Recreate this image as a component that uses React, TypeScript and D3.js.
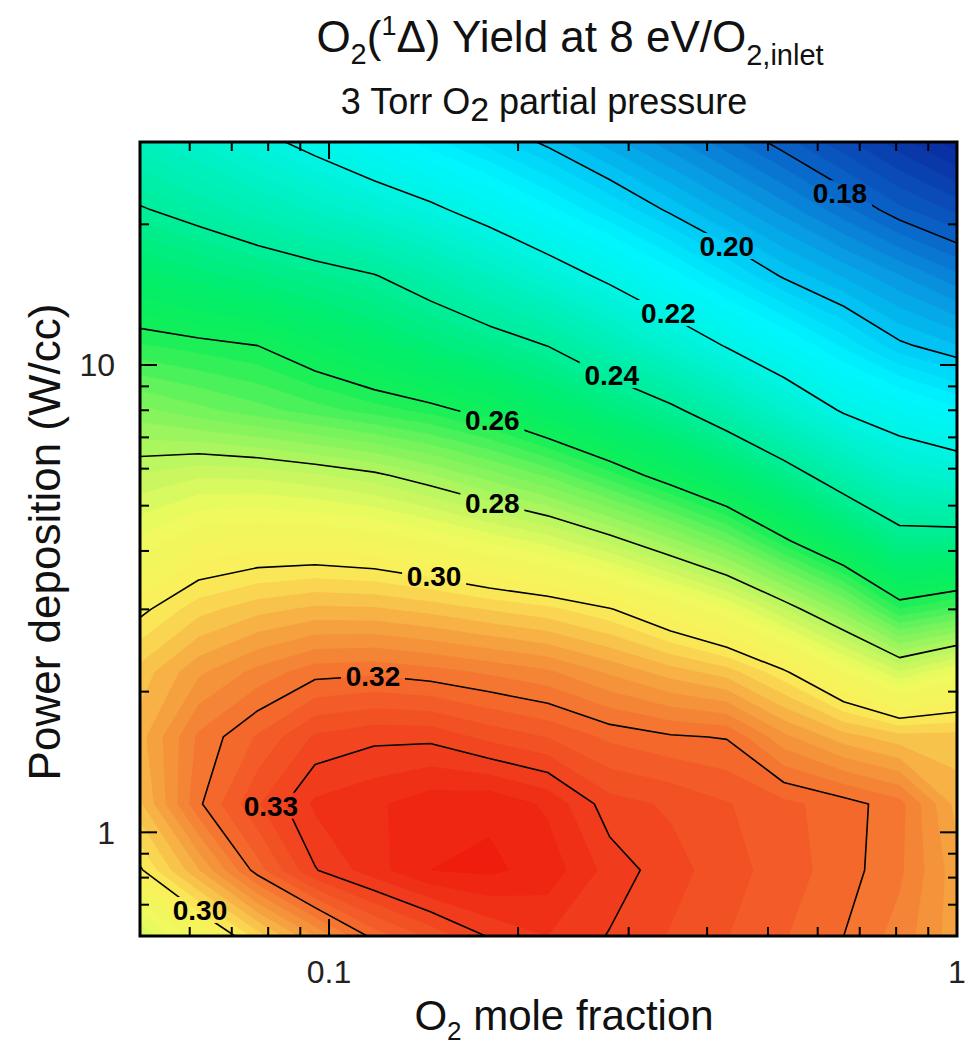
import React from 'react';
import * as d3 from 'd3';

// grid of the simulation: O2 mole fraction (columns) x power deposition (rows)
const moleFraction = [0.05, 0.062, 0.077, 0.095, 0.118, 0.145, 0.18, 0.223, 0.28, 0.35, 0.43, 0.53, 0.66, 0.81, 1.0];
const powerDeposition = [0.6, 0.83, 1.15, 1.6, 2.2, 3.0, 4.2, 5.8, 8.0, 11, 15.5, 21.5, 30];

// O2(1Delta) yield, one row per power deposition value (bottom to top)
const yieldRows = [
  [0.285, 0.2943, 0.3036, 0.3126, 0.321, 0.3256, 0.3303, 0.3325, 0.3298, 0.3273, 0.3251, 0.3227, 0.32, 0.3165, 0.311],
  [0.2995, 0.3098, 0.3214, 0.3298, 0.334, 0.3375, 0.338, 0.3365, 0.3315, 0.3285, 0.3261, 0.3237, 0.3212, 0.318, 0.311],
  [0.307, 0.3195, 0.3272, 0.333, 0.3345, 0.3365, 0.337, 0.3345, 0.3285, 0.3271, 0.3252, 0.3232, 0.3212, 0.3185, 0.309],
  [0.309, 0.318, 0.3228, 0.3279, 0.3293, 0.3293, 0.3267, 0.3249, 0.3219, 0.3204, 0.3198, 0.3132, 0.3086, 0.306, 0.306],
  [0.306, 0.312, 0.3159, 0.319, 0.3195, 0.3185, 0.3171, 0.3155, 0.3121, 0.3088, 0.3063, 0.3007, 0.2928, 0.2853, 0.2904],
  [0.2991, 0.304, 0.3066, 0.3081, 0.3079, 0.3066, 0.3048, 0.3032, 0.3003, 0.2954, 0.2904, 0.2826, 0.2736, 0.2626, 0.2661],
  [0.2907, 0.2947, 0.2958, 0.2957, 0.2946, 0.2924, 0.2894, 0.2865, 0.2817, 0.2758, 0.2696, 0.261, 0.2524, 0.2438, 0.2439],
  [0.2828, 0.2846, 0.2843, 0.2829, 0.2809, 0.2777, 0.2737, 0.2696, 0.2636, 0.2573, 0.2514, 0.244, 0.2351, 0.2278, 0.2256],
  [0.2732, 0.2708, 0.2685, 0.2662, 0.2638, 0.2615, 0.2581, 0.2528, 0.2472, 0.2416, 0.2347, 0.2268, 0.2192, 0.2149, 0.2106],
  [0.2628, 0.2614, 0.26, 0.256, 0.2519, 0.2481, 0.244, 0.2399, 0.2328, 0.2259, 0.2195, 0.2134, 0.2069, 0.2008, 0.1976],
  [0.2515, 0.2487, 0.2459, 0.2432, 0.2404, 0.2355, 0.2299, 0.2244, 0.2182, 0.2116, 0.2055, 0.1995, 0.1947, 0.1902, 0.1856],
  [0.2406, 0.2371, 0.2331, 0.2293, 0.2253, 0.2215, 0.2165, 0.2109, 0.205, 0.1992, 0.194, 0.1888, 0.1833, 0.1781, 0.1743],
  [0.231, 0.2268, 0.2222, 0.2176, 0.2129, 0.2085, 0.2038, 0.1991, 0.1937, 0.1884, 0.1835, 0.1785, 0.1733, 0.1685, 0.1635],
];

const lineLevels = [0.18, 0.2, 0.22, 0.24, 0.26, 0.28, 0.3, 0.32, 0.33];
const labelText = ['0.18', '0.20', '0.22', '0.24', '0.26', '0.28', '0.30', '0.32', '0.33', '0.30'];
const labelX = [0.651, 0.43, 0.347, 0.282, 0.182, 0.182, 0.147, 0.1175, 0.0808, 0.0623];
const labelY = [23.3, 17.97, 12.92, 9.52, 7.63, 5.07, 3.54, 2.16, 1.14, 0.682];

const xTickLabels = [0.1, 1];
const yTickLabels = [1, 10];

const colorDomain = [0.16, 0.17, 0.18, 0.19, 0.2, 0.21, 0.22, 0.23, 0.24, 0.25, 0.26, 0.27, 0.28, 0.29, 0.3, 0.305, 0.31, 0.315, 0.32, 0.325, 0.33, 0.335, 0.34];
const colorRange = ['#0a1e96', '#0a3cac', '#0a64c8', '#0896e0', '#00c8f5', '#00f5ff', '#00f5e6', '#00f0c0', '#00ee9a', '#00ee6e', '#10ef58', '#6ef25c', '#b4f660', '#eefa5e', '#faf05a', '#f8cc4e', '#f6a842', '#f58c38', '#f46e2e', '#f25626', '#f0401e', '#ef2a14', '#ee180a'];

const W = 968;
const H = 1050;
const L = 140, R = 957, T = 142, B = 936;
const FONT = '"Liberation Sans", Arial, sans-serif';

export default function App() {
  const x = d3.scaleLog().domain([0.05, 1]).range([L, R]);
  const y = d3.scaleLog().domain([0.6, 30]).range([B, T]);
  const color = d3.scaleLinear<string>().domain(colorDomain).range(colorRange).clamp(true);

  const nx = moleFraction.length;
  const ny = powerDeposition.length;
  const colPx = moleFraction.map(v => x(v));
  const rowPx = powerDeposition.map(v => y(v));
  // contour coords: sample i sits at i + 0.5
  const toPx = (arr: number[], c: number, n: number) => {
    const g = Math.max(0, Math.min(n - 1, c - 0.5));
    const i = Math.min(n - 2, Math.floor(g));
    const t = g - i;
    return arr[i] + (arr[i + 1] - arr[i]) * t;
  };
  const path = d3.geoPath(
    d3.geoTransform({
      point(px: number, py: number) {
        (this as any).stream.point(toPx(colPx, px, nx), toPx(rowPx, py, ny));
      },
    })
  );

  const values = yieldRows.flat();
  const fillLevels = d3.range(0, 73).map(i => 0.16 + i * 0.0025);
  const bands = d3.contours().size([nx, ny]).thresholds(fillLevels)(values);
  const lines = d3.contours().size([nx, ny]).thresholds(lineLevels)(values);

  const xt = x.ticks();
  const yt = y.ticks();
  const isMajor = (v: number) => Math.abs(Math.log10(v) - Math.round(Math.log10(v))) < 1e-6;

  return (
    <svg width={W} height={H} style={{ position: 'absolute', left: 0, top: 0, background: '#fff' }} fontFamily={FONT}>
      <defs>
        <clipPath id="plot">
          <rect x={L} y={T} width={R - L} height={B - T} />
        </clipPath>
        <mask id="gaps">
          <rect x={0} y={0} width={W} height={H} fill="#fff" />
          {labelText.map((t, i) => (
            <rect key={i} x={x(labelX[i]) - 32} y={y(labelY[i]) - 13} width={64} height={26} fill="#000" />
          ))}
        </mask>
      </defs>

      <g clipPath="url(#plot)">
        {bands.map((b, i) => (
          <path key={i} d={path(b as any) || ''} fill={color(b.value + 0.00125)} stroke={color(b.value + 0.00125)} strokeWidth={0.4} />
        ))}
        <g mask="url(#gaps)">
          {lines.map((l, i) => (
            <path key={i} d={path(l as any) || ''} fill="none" stroke="#000" strokeWidth={1.6} strokeLinejoin="round" />
          ))}
        </g>
      </g>

      {labelText.map((t, i) => (
        <text key={i} x={x(labelX[i])} y={y(labelY[i])} dy="0.36em" textAnchor="middle" fontSize={28} fontWeight="bold">
          {t}
        </text>
      ))}

      {/* ticks, inward on all four sides */}
      <g stroke="#000" strokeWidth={2}>
        {xt.map((v, i) => {
          const len = isMajor(v) ? 17 : 9;
          return (
            <g key={i}>
              <line x1={x(v)} x2={x(v)} y1={B} y2={B - len} />
              <line x1={x(v)} x2={x(v)} y1={T} y2={T + len} />
            </g>
          );
        })}
        {yt.map((v, i) => {
          const len = isMajor(v) ? 17 : 9;
          return (
            <g key={i}>
              <line x1={L} x2={L + len} y1={y(v)} y2={y(v)} />
              <line x1={R} x2={R - len} y1={y(v)} y2={y(v)} />
            </g>
          );
        })}
      </g>
      <rect x={L} y={T} width={R - L} height={B - T} fill="none" stroke="#000" strokeWidth={3} />

      {xTickLabels.map(v => (
        <text key={v} x={x(v)} y={983} textAnchor="middle" fontSize={32} fill="#222">
          {String(v)}
        </text>
      ))}
      {yTickLabels.map(v => (
        <text key={v} x={115} y={y(v)} dy="0.36em" textAnchor="end" fontSize={32} fill="#222">
          {String(v)}
        </text>
      ))}

      <text x={570} y={52} textAnchor="middle" fontSize={44} fill="#111">
        O<tspan dy={12} fontSize={29}>2</tspan>
        <tspan dy={-12}>(</tspan>
        <tspan dy={-17} fontSize={27}>1</tspan>
        <tspan dy={17}>Δ) Yield at 8 eV/O</tspan>
        <tspan dy={13} fontSize={29}>2,inlet</tspan>
      </text>
      <text x={544} y={114} textAnchor="middle" fontSize={36} fill="#111">
        3 Torr O<tspan dy={7} fontSize={34}>2</tspan>
        <tspan dy={-7}> partial pressure</tspan>
      </text>

      <text x={564} y={1030} textAnchor="middle" fontSize={42} fill="#111">
        O<tspan dy={10} fontSize={26}>2</tspan>
        <tspan dy={-10}> mole fraction</tspan>
      </text>
      <text transform={`translate(60, 542) rotate(-90)`} textAnchor="middle" fontSize={44} fill="#111">
        Power deposition (W/cc)
      </text>
    </svg>
  );
}
